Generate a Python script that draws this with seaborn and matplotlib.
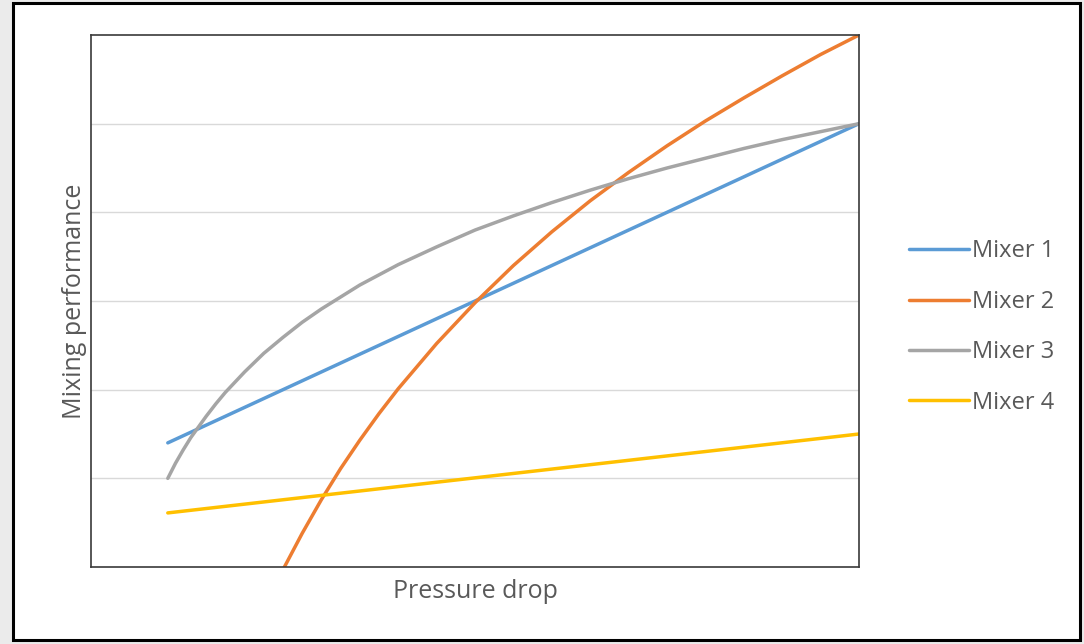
import numpy as np
import pandas as pd
import matplotlib
matplotlib.use("Agg")
import matplotlib.pyplot as plt
from matplotlib.patches import Rectangle
import seaborn as sns

# Pressure drop (arbitrary units) and mixing performance for each mixer
x_lin = [1, 10]
mixer1 = [1.40, 5.00]
mixer4 = [0.61, 1.50]

x_m2 = [2.5, 2.75, 3, 3.25, 3.5, 3.75, 4, 4.5, 5, 5.5, 6, 6.5, 7, 7.5,
        8, 8.5, 9, 9.5, 10]
mixer2 = [-0.03, 0.38, 0.76, 1.11, 1.43, 1.73, 2.01, 2.52, 2.98, 3.40,
          3.78, 4.13, 4.45, 4.75, 5.03, 5.29, 5.54, 5.78, 6.00]

x_m3 = [1, 1.1, 1.2, 1.3, 1.4, 1.5, 1.625, 1.75, 2, 2.25, 2.5, 2.75, 3,
        3.5, 4, 4.5, 5, 5.5, 6, 6.5, 7, 7.5, 8, 8.5, 9, 9.5, 10]
mixer3 = [1.00, 1.17, 1.32, 1.46, 1.58, 1.70, 1.84, 1.97, 2.20, 2.41,
          2.59, 2.76, 2.91, 3.18, 3.41, 3.61, 3.80, 3.96, 4.11, 4.25,
          4.38, 4.50, 4.61, 4.72, 4.82, 4.91, 5.00]

series_names = ["Mixer 1", "Mixer 2", "Mixer 3", "Mixer 4"]
colors = ["#5B9BD5", "#ED7D31", "#A5A5A5", "#FFC000"]

frames = [
    pd.DataFrame({"x": x_lin, "y": mixer1, "series": "Mixer 1"}),
    pd.DataFrame({"x": x_m2, "y": mixer2, "series": "Mixer 2"}),
    pd.DataFrame({"x": x_m3, "y": mixer3, "series": "Mixer 3"}),
    pd.DataFrame({"x": x_lin, "y": mixer4, "series": "Mixer 4"}),
]
df = pd.concat(frames, ignore_index=True)

sns.set_theme(style="white")
plt.rcParams["font.family"] = ["Open Sans", "DejaVu Sans"]

fig = plt.figure(figsize=(10.84, 6.44), dpi=100)
fig.patch.set_facecolor("#ebebeb")
# white slide panel with black outline, kept behind the axes
panel = Rectangle((13 / 1084, 4 / 644), (1080 - 13) / 1084, (641 - 4) / 644,
                  transform=fig.transFigure, facecolor="white",
                  edgecolor="black", linewidth=2.2, zorder=-10)
fig.patches.append(panel)

ax = fig.add_axes([91 / 1084, 1 - 567 / 644, (859 - 91) / 1084, (567 - 35) / 644])
ax.set_facecolor("white")

sns.lineplot(data=df, x="x", y="y", hue="series", hue_order=series_names,
             palette=colors, linewidth=2.5, sort=False, ax=ax)

ax.set_xlim(0, 10)
ax.set_ylim(0, 6)
ax.set_yticks([1, 2, 3, 4, 5])
ax.set_xticks([])
ax.tick_params(left=False, bottom=False, labelleft=False, labelbottom=False)
ax.yaxis.grid(True, color="#d9d9d9", linewidth=1.0)
ax.set_axisbelow(True)
for sp in ax.spines.values():
    sp.set_color("#3a3a3a")
    sp.set_linewidth(1.2)

ax.set_xlabel("Pressure drop", fontsize=18, color="#595959", labelpad=9)
ax.set_ylabel("Mixing performance", fontsize=18, color="#595959", labelpad=3)

sns.move_legend(ax, loc="center left", bbox_to_anchor=(1.037, 0.451),
                frameon=False, title=None, fontsize=17, labelcolor="#595959",
                handlelength=2.55, handletextpad=0.12, labelspacing=1.12)

fig.savefig("out.png", dpi=100, facecolor=fig.get_facecolor())
